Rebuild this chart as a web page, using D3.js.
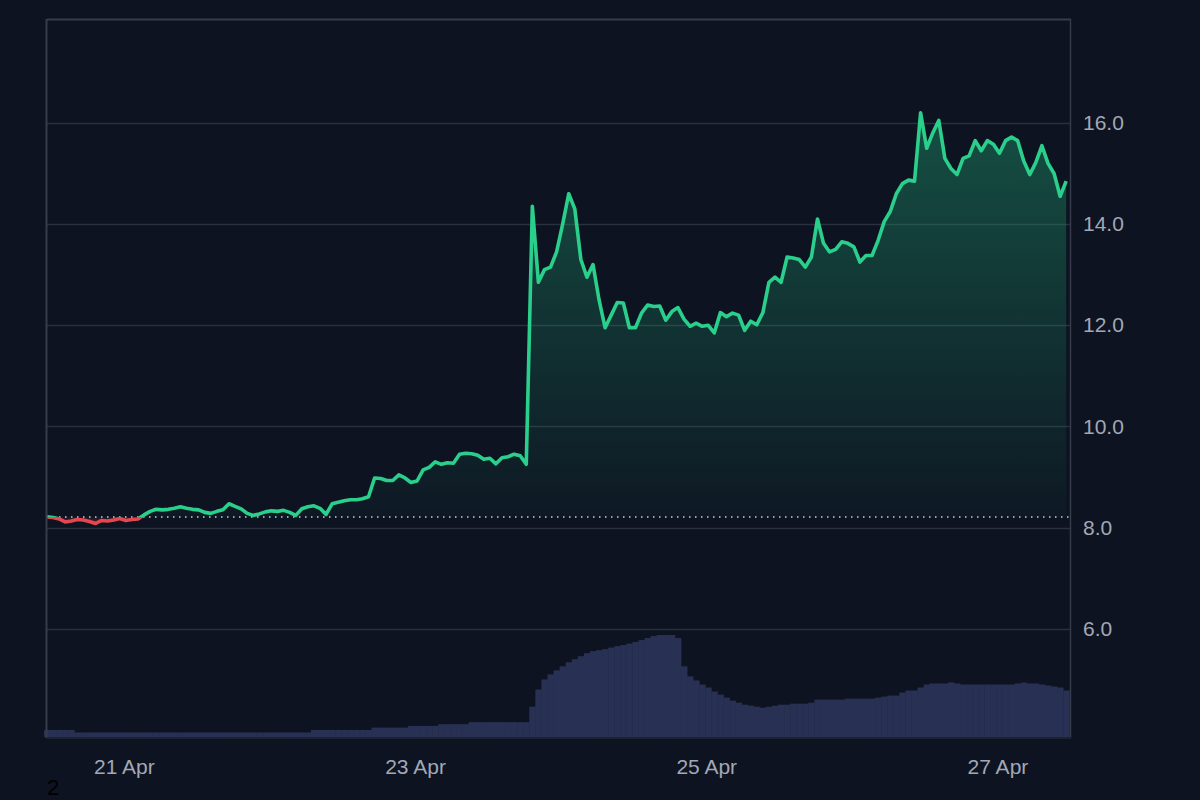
<!DOCTYPE html>
<html>
<head>
<meta charset="utf-8">
<script src="https://cdn.jsdelivr.net/npm/d3@7"></script>
<style>
    html, body { margin: 0; padding: 0; background: #0d1321; }
    svg { display: block; }
</style>
</head>
<body>
<div id="chart"></div>
<script>
// Hourly samples, first one at 20 Apr 11:20
var startTime = new Date(2024, 3, 20, 11, 20);

var prices = [
    8.21, 8.20, 8.17, 8.11, 8.13, 8.16, 8.15, 8.12, 8.08, 8.14,
    8.13, 8.15, 8.18, 8.14, 8.16, 8.17, 8.25, 8.32, 8.36, 8.35,
    8.36, 8.38, 8.41, 8.38, 8.36, 8.35, 8.30, 8.28, 8.32, 8.35,
    8.47, 8.42, 8.37, 8.28, 8.24, 8.27, 8.31, 8.33, 8.32, 8.34,
    8.30, 8.24, 8.37, 8.41, 8.43, 8.38, 8.26, 8.47, 8.50, 8.53,
    8.55, 8.55, 8.57, 8.61, 8.98, 8.97, 8.93, 8.93, 9.04, 8.98,
    8.89, 8.92, 9.14, 9.19, 9.30, 9.25, 9.28, 9.27, 9.45, 9.47,
    9.46, 9.43, 9.35, 9.37, 9.26, 9.38, 9.40, 9.45, 9.42, 9.25,
    14.35, 12.85, 13.10, 13.15, 13.45, 14.00, 14.60, 14.30, 13.30, 12.95,
    13.20, 12.50, 11.95, 12.20, 12.45, 12.44, 11.95, 11.95, 12.24, 12.40,
    12.37, 12.38, 12.10, 12.27, 12.35, 12.12, 11.98, 12.04, 11.98, 12.00,
    11.85, 12.25, 12.17, 12.24, 12.20, 11.90, 12.08, 12.01, 12.25, 12.85,
    12.95, 12.85, 13.35, 13.33, 13.30, 13.15, 13.35, 14.10, 13.62, 13.45,
    13.50, 13.65, 13.62, 13.55, 13.25, 13.38, 13.38, 13.68, 14.05, 14.25,
    14.60, 14.80, 14.87, 14.85, 16.20, 15.50, 15.80, 16.05, 15.30, 15.10,
    14.98, 15.30, 15.35, 15.65, 15.45, 15.65, 15.58, 15.40, 15.65, 15.72,
    15.65, 15.25, 14.98, 15.22, 15.55, 15.20, 15.00, 14.55, 14.85
];

var volumes = [
    7, 7, 7, 7, 7, 4.5, 4.5, 4.5, 4.5, 4.5,
    4.5, 4.5, 4.5, 4.5, 4.5, 4.5, 4.5, 4.5, 4.5, 4.5,
    4.5, 4.5, 4.5, 4.5, 4.5, 4.5, 4.5, 4.5, 4.5, 4.5,
    4.5, 4.5, 4.5, 4.5, 4.5, 4.5, 4.5, 4.5, 4.5, 4.5,
    4.5, 4.5, 4.5, 4.5, 7, 7, 7, 7, 7, 7,
    7, 7, 7, 7, 9.3, 9.3, 9.3, 9.3, 9.3, 9.3,
    11, 11, 11, 11, 11, 12.7, 12.7, 12.7, 12.7, 12.7,
    14.7, 14.7, 14.7, 14.7, 14.7, 14.7, 14.7, 14.7, 14.7, 14.7,
    30, 47, 57, 62, 66, 70, 74, 77, 80, 83,
    85, 86, 87, 88.5, 90, 91, 92.5, 94, 96, 98,
    100, 101, 101, 101, 98, 70, 60, 56, 52, 49,
    45, 42, 39, 36, 34, 32, 31, 30, 29, 30,
    31, 32, 32, 33, 33, 33, 34, 37, 37, 37,
    37, 37, 38, 38, 38, 38, 38, 39, 40, 41,
    41, 44, 46, 46, 49, 52, 53, 53, 53, 54,
    53, 52, 52, 52, 52, 52, 52, 52, 52, 52,
    53, 54, 53, 53, 52, 51, 50, 49, 46
];

var priceTicks = [6, 8, 10, 12, 14, 16];
var dateTicks = [new Date(2024, 3, 21), new Date(2024, 3, 23), new Date(2024, 3, 25), new Date(2024, 3, 27)];

var width = 1200, height = 800;
var plot = {left: 47, right: 1070, top: 19, bottom: 737};

function buildChart() {
    var data = prices.map(function(p, i) {
        return { t: d3.timeHour.offset(startTime, i), price: p, volume: volumes[i] };
    });
    var baseline = prices[0];

    var svg = d3.select("#chart")
        .append("svg")
        .attr("width", width)
        .attr("height", height)
        .style("font-family", "'Liberation Sans', Arial, sans-serif");

    svg.append("rect")
        .attr("width", width)
        .attr("height", height)
        .attr("fill", "#0d1321");

    var x = d3.scaleTime()
        .domain([startTime, data[data.length - 1].t])
        .range([plot.left, 1066.2]);

    var y = d3.scaleLinear()
        .domain([3.858, 18.056])
        .range([plot.bottom, plot.top]);

    var yVol = d3.scaleLinear()
        .domain([0, 100])
        .range([plot.bottom, 636]);

    // Horizontal grid lines
    svg.append("g")
        .selectAll("line")
        .data(priceTicks)
        .enter()
        .append("line")
            .attr("x1", plot.left)
            .attr("x2", plot.right)
            .attr("y1", function(d) { return Math.round(y(d)) + 0.5; })
            .attr("y2", function(d) { return Math.round(y(d)) + 0.5; })
            .attr("stroke", "#2a303d")
            .attr("stroke-width", 1.5);

    // Volume bars
    var step = x(data[1].t) - x(data[0].t);
    svg.append("g")
        .selectAll("rect")
        .data(data)
        .enter()
        .append("rect")
            .attr("x", function(d) { return x(d.t) - step / 2; })
            .attr("y", function(d) { return yVol(d.volume); })
            .attr("width", step + 0.4)
            .attr("height", function(d) { return yVol(0) - yVol(d.volume); })
            .attr("fill", "#283153");

    // Gradient under the price line
    var defs = svg.append("defs");
    var grad = defs.append("linearGradient")
        .attr("id", "area-grad")
        .attr("gradientUnits", "userSpaceOnUse")
        .attr("x1", 0).attr("x2", 0)
        .attr("y1", y(d3.max(prices)))
        .attr("y2", y(baseline));
    grad.append("stop").attr("offset", "0%").attr("stop-color", "#1f9a6c").attr("stop-opacity", 0.45);
    grad.append("stop").attr("offset", "100%").attr("stop-color", "#1f9a6c").attr("stop-opacity", 0.04);

    var gradRed = defs.append("linearGradient")
        .attr("id", "area-grad-red")
        .attr("gradientUnits", "userSpaceOnUse")
        .attr("x1", 0).attr("x2", 0)
        .attr("y1", y(baseline))
        .attr("y2", y(d3.min(prices)));
    gradRed.append("stop").attr("offset", "0%").attr("stop-color", "#e5474f").attr("stop-opacity", 0.05);
    gradRed.append("stop").attr("offset", "100%").attr("stop-color", "#e5474f").attr("stop-opacity", 0.3);

    // Clip regions above / below the starting price
    defs.append("clipPath").attr("id", "clip-above")
        .append("rect")
            .attr("x", 0).attr("y", 0)
            .attr("width", width).attr("height", y(baseline));
    defs.append("clipPath").attr("id", "clip-below")
        .append("rect")
            .attr("x", 0).attr("y", y(baseline))
            .attr("width", width).attr("height", height - y(baseline));

    var area = d3.area()
        .x(function(d) { return x(d.t); })
        .y0(y(baseline))
        .y1(function(d) { return y(d.price); });

    svg.append("path")
        .datum(data)
        .attr("d", area)
        .attr("fill", "url(#area-grad)")
        .attr("clip-path", "url(#clip-above)");
    svg.append("path")
        .datum(data)
        .attr("d", area)
        .attr("fill", "url(#area-grad-red)")
        .attr("clip-path", "url(#clip-below)");

    // Dotted baseline at the opening price
    svg.append("line")
        .attr("x1", plot.left)
        .attr("x2", plot.right)
        .attr("y1", y(baseline))
        .attr("y2", y(baseline))
        .attr("stroke", "#c9ced8")
        .attr("stroke-width", 1.5)
        .attr("stroke-dasharray", "1.5 4.5");

    var line = d3.line()
        .x(function(d) { return x(d.t); })
        .y(function(d) { return y(d.price); });

    svg.append("path")
        .datum(data)
        .attr("d", line)
        .attr("fill", "none")
        .attr("stroke", "#2bcf8c")
        .attr("stroke-width", 3.6)
        .attr("stroke-linejoin", "round")
        .attr("clip-path", "url(#clip-above)");
    svg.append("path")
        .datum(data)
        .attr("d", line)
        .attr("fill", "none")
        .attr("stroke", "#e5474f")
        .attr("stroke-width", 3.6)
        .attr("stroke-linejoin", "round")
        .attr("clip-path", "url(#clip-below)");

    // Frame
    svg.append("line")
        .attr("x1", plot.left).attr("x2", plot.right + 1)
        .attr("y1", plot.top + 0.5).attr("y2", plot.top + 0.5)
        .attr("stroke", "#363c4a").attr("stroke-width", 2);
    svg.append("line")
        .attr("x1", plot.left - 0.5).attr("x2", plot.left - 0.5)
        .attr("y1", plot.top).attr("y2", plot.bottom + 1)
        .attr("stroke", "#363c4a").attr("stroke-width", 2);
    svg.append("line")
        .attr("x1", plot.right + 0.5).attr("x2", plot.right + 0.5)
        .attr("y1", plot.top).attr("y2", plot.bottom + 1)
        .attr("stroke", "#363c4a").attr("stroke-width", 1.5);
    svg.append("line")
        .attr("x1", plot.left).attr("x2", plot.right + 1)
        .attr("y1", plot.bottom + 1).attr("y2", plot.bottom + 1)
        .attr("stroke", "#1c2230").attr("stroke-width", 2);

    // Right price axis
    var yAxis = svg.append("g")
        .attr("transform", "translate(" + plot.right + ",0)")
        .call(d3.axisRight(y).tickValues(priceTicks).tickFormat(d3.format(".1f")).tickSize(0).tickPadding(13));
    yAxis.select(".domain").remove();
    yAxis.selectAll("text")
        .attr("fill", "#a3a8b5")
        .style("font-size", "21px")
        .style("font-family", "'Liberation Sans', Arial, sans-serif");

    // Bottom date axis
    var xAxis = svg.append("g")
        .attr("transform", "translate(0," + plot.bottom + ")")
        .call(d3.axisBottom(x).tickValues(dateTicks).tickFormat(d3.timeFormat("%-d %b")).tickSize(0).tickPadding(22));
    xAxis.select(".domain").remove();
    xAxis.selectAll("text")
        .attr("fill", "#a3a8b5")
        .style("font-size", "21px")
        .style("font-family", "'Liberation Sans', Arial, sans-serif");

    // stray label in the corner
    svg.append("text")
        .attr("x", 47)
        .attr("y", 795)
        .attr("fill", "#000000")
        .style("font-size", "22px")
        .text("2");
}

buildChart();
</script>
</body>
</html>
